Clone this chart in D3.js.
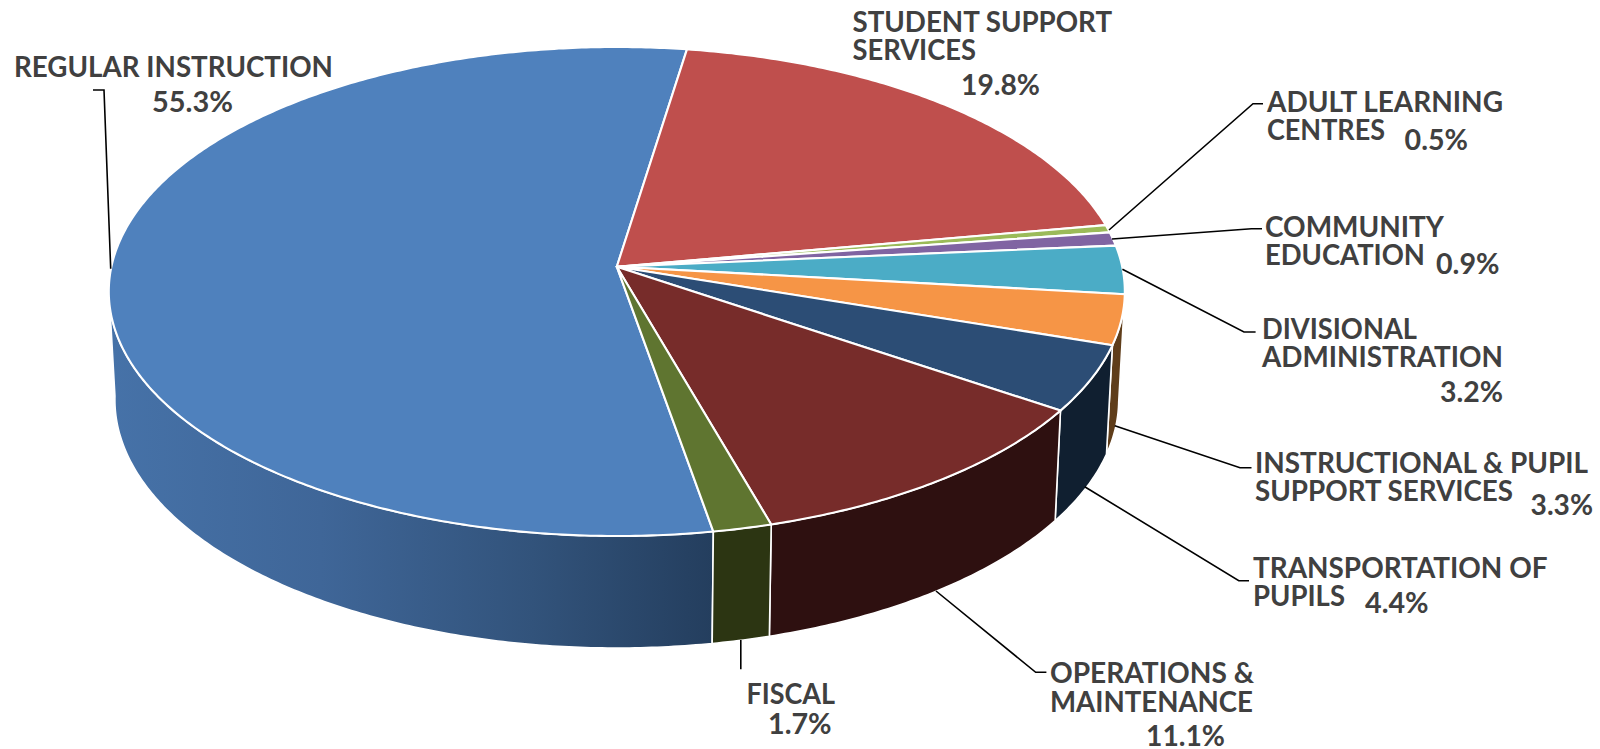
<!DOCTYPE html>
<html>
<head>
<meta charset="utf-8">
<script src="https://cdn.jsdelivr.net/npm/d3@7"></script>
<style>
html,body{margin:0;padding:0;background:#fff;overflow:hidden}
svg{display:block}
text{font-family:Lato,"Open Sans",sans-serif;font-weight:700;font-size:29px;fill:#404040}
</style>
</head>
<body>
<svg id="chart" width="1600" height="749"></svg>
<script>
// ---- data ----
const categories = ["REGULAR INSTRUCTION","STUDENT SUPPORT SERVICES","ADULT LEARNING CENTRES","COMMUNITY EDUCATION","DIVISIONAL ADMINISTRATION","INSTRUCTIONAL & PUPIL SUPPORT SERVICES","TRANSPORTATION OF PUPILS","OPERATIONS & MAINTENANCE","FISCAL"];
const shares = [55.3,19.8,0.5,0.9,3.2,3.3,4.4,11.1,1.7];
const nameLines = [["REGULAR INSTRUCTION"],["STUDENT SUPPORT","SERVICES"],["ADULT LEARNING","CENTRES"],["COMMUNITY","EDUCATION"],["DIVISIONAL","ADMINISTRATION"],["INSTRUCTIONAL & PUPIL","SUPPORT SERVICES"],["TRANSPORTATION OF","PUPILS"],["OPERATIONS &","MAINTENANCE"],["FISCAL"]];

// ---- styles ----
const topColors = ["#4f81bd","#bf4f4d","#9bbb59","#8064a2","#4bacc6","#f69546","#2c4d75","#772c2a","#5f7530"];
const wallColors = ["url(#blueWall)","#6a2a28","#5c7030","#4a3a60","#2c6a7c","#5f3d1a","#101f30","#2e1010","#2c3512"];

// ---- layout ----
const firstAngleDeg = 170.1;
const cam = {px:616.8, py:266.7, A:505.4, B:242, k:0.1014};
const floor = {px:616.8, py:374.5, sx:0.988, sy:1.0156};
const wallFrom = 96, wallTo = 265;
// [x, baseline, width] per text line, in category order; last entry of each group is the percentage
const labelBoxes = [
  [[14,76,319],[152,110.7,81]],
  [[852.5,30.7,259.5],[852.5,58.7,123.5],[961,93.7,79]],
  [[1267,110.7,236],[1267,138.7,118],[1404.6,149.3,63.4]],
  [[1265,235.7,179],[1265,264,160],[1436,272.7,63.5]],
  [[1262,337.7,155],[1262,366.3,241],[1440,400.7,63]],
  [[1255,472.3,333],[1255,500.3,258],[1530.6,514.3,62.4]],
  [[1253,577,294.5],[1253,605.3,92],[1365,612,63.6]],
  [[1050,682,204],[1050,711.3,203],[1146,745.3,79]],
  [[746.4,703.3,88.6],[768,732.7,63.6]]
];
const leaders = [
  [[93,90],[104,90],[110.7,268.7]],
  [[1263,103.7],[1253,103.7],[1109,230]],
  [[1262,228.7],[1251.5,228.7],[1112,239]],
  [[1255.6,332],[1244,332],[1122.4,269.3]],
  [[1251.5,467.7],[1240,467.7],[1114.8,425.7]],
  [[1249,580.7],[1238.8,580.7],[1084.7,486.7]],
  [[1046.4,672.3],[1035.7,672.3],[936,591]],
  [[740.8,640],[740.8,669.3]]
];

// ---- drawing ----
const svg = d3.select("#chart");
const defs = svg.append("defs");
const grad = defs.append("linearGradient").attr("id","blueWall").attr("gradientUnits","userSpaceOnUse")
  .attr("x1",110).attr("x2",713).attr("y1",0).attr("y2",0);
[[0,"#4672a8"],[0.35,"#3f6698"],[0.7,"#32537b"],[1,"#243e5e"]].forEach(s=>grad.append("stop").attr("offset",s[0]).attr("stop-color",s[1]));

const start = firstAngleDeg*Math.PI/180;
const slices = d3.pie().sort(null).startAngle(start).endAngle(start+2*Math.PI)(shares);
const color = d3.scaleOrdinal().domain(categories).range(topColors);
const wall = d3.scaleOrdinal().domain(categories).range(wallColors);
const line = d3.line().x(p=>p[0]).y(p=>p[1]);

function rim(a){
  const X=Math.sin(a), Y=-Math.cos(a), w=1-cam.k*Y;
  return [cam.px+cam.A*X/w, cam.py+cam.B*Y/w];
}
function base(a){
  const p=rim(a);
  return [floor.px+floor.sx*(p[0]-cam.px), floor.py+floor.sy*(p[1]-cam.py)];
}
function arcPts(a0,a1,f){
  const n=Math.max(2,Math.ceil(Math.abs(a1-a0)/0.01));
  return d3.range(n+1).map(i=>f(a0+(a1-a0)*i/n));
}
const rad=d=>d*Math.PI/180;

// walls: only the part of each slice's side that faces the viewer
const wallData = slices.map((s,i)=>{
  const turn = s.startAngle>=2*Math.PI ? 2*Math.PI : 0;
  const lo=Math.max(s.startAngle-turn,rad(wallFrom)), hi=Math.min(s.endAngle-turn,rad(wallTo));
  return {i,lo,hi};
}).filter(d=>d.hi>d.lo);

svg.append("g").selectAll("path").data(wallData).join("path")
  .attr("d",d=>line(arcPts(d.lo,d.hi,rim).concat(arcPts(d.hi,d.lo,base)))+"Z")
  .attr("fill",d=>wall(categories[d.i]))
  .attr("stroke","#fff").attr("stroke-width",1.6).attr("stroke-linejoin","round");

svg.append("g").selectAll("path").data(slices).join("path")
  .attr("d",(s)=>line([[cam.px,cam.py]].concat(arcPts(s.startAngle,s.endAngle,rim)))+"Z")
  .attr("fill",(s,i)=>color(categories[i]))
  .attr("stroke","#fff").attr("stroke-width",2.1).attr("stroke-linejoin","round");

svg.append("g").selectAll("path").data(leaders).join("path")
  .attr("d",line).attr("fill","none").attr("stroke","#000").attr("stroke-width",1.6);

const fmt=d3.format(".1f");
const labels=[];
categories.forEach((c,i)=>{
  const strs=nameLines[i].concat([fmt(shares[i])+"%"]);
  strs.forEach((t,j)=>labels.push({t,box:labelBoxes[i][j]}));
});
svg.append("g").selectAll("text").data(labels).join("text")
  .attr("x",d=>d.box[0]).attr("y",d=>d.box[1]).attr("dy",0.8)
  .attr("textLength",d=>d.box[2]).attr("lengthAdjust","spacingAndGlyphs")
  .text(d=>d.t);
</script>
</body>
</html>
